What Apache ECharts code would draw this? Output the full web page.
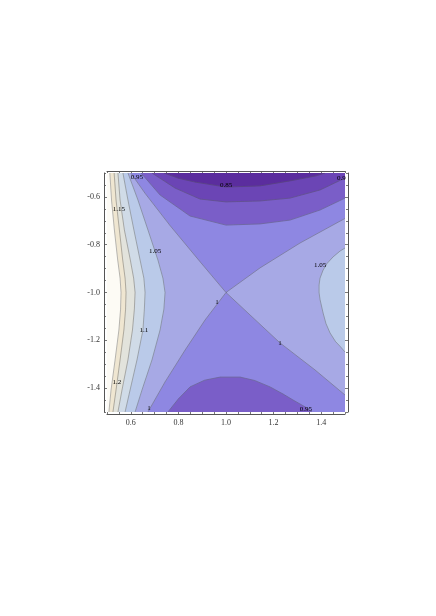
<!DOCTYPE html>
<html><head><meta charset="utf-8">
<script src="https://cdn.jsdelivr.net/npm/echarts@6/dist/echarts.min.js"></script>
<style>html,body{margin:0;padding:0;background:#fff}#c{width:436px;height:616px}</style>
</head><body><div id="c"></div><script>
// ---- data ----
const xRange = [0.5, 1.5];
const yRange = [-1.5, -0.5];
const xMajor = [0.6, 0.8, 1.0, 1.2, 1.4];
const yMajor = [-1.4, -1.2, -1.0, -0.8, -0.6];
const xMinor = [0.5, 0.55, 0.65, 0.7, 0.75, 0.85, 0.9, 0.95, 1.05, 1.1, 1.15, 1.25, 1.3, 1.35, 1.45, 1.5];
const yMinor = [-1.5, -1.45, -1.35, -1.3, -1.25, -1.15, -1.1, -1.05, -0.95, -0.9, -0.85, -0.75, -0.7, -0.65, -0.55, -0.5];
const levels = [0.85, 0.9, 0.95, 1.0, 1.05, 1.1, 1.15, 1.2, 1.25];

// contour lines, [x, y] in data units
const c085 = [[0.74,-0.5],[0.80,-0.522],[0.87,-0.538],[1.0,-0.559],[1.143,-0.554],[1.269,-0.533],[1.374,-0.513],[1.416,-0.5]];
const c090 = [[0.689,-0.5],[0.786,-0.563],[0.891,-0.609],[1.0,-0.621],[1.143,-0.617],[1.269,-0.605],[1.395,-0.571],[1.5,-0.521]];
const c095Top = [[0.643,-0.5],[0.723,-0.592],[0.849,-0.680],[1.0,-0.718],[1.143,-0.713],[1.269,-0.697],[1.395,-0.655],[1.5,-0.605]];
const c095Bottom = [[0.756,-1.5],[0.80,-1.445],[0.849,-1.395],[0.91,-1.367],[0.975,-1.354],[1.059,-1.354],[1.12,-1.368],[1.185,-1.395],[1.24,-1.425],[1.282,-1.45],[1.34,-1.483],[1.361,-1.5]];
const c100UpLeft = [[0.60,-0.5],[0.66,-0.585],[0.765,-0.72],[0.89,-0.87],[1.0,-1.0]];
const c100DownLeft = [[1.0,-1.0],[0.912,-1.115],[0.828,-1.241],[0.744,-1.374],[0.672,-1.5]];
const c100UpRight = [[1.5,-0.69],[1.311,-0.793],[1.143,-0.897],[1.0,-1.0]];
const c100DownRight = [[1.0,-1.0],[1.101,-1.094],[1.227,-1.211],[1.374,-1.324],[1.5,-1.429]];
const c105Right = [[1.5,-0.814],[1.48,-0.826],[1.45,-0.851],[1.425,-0.878],[1.408,-0.906],[1.395,-0.94],[1.391,-0.969],[1.391,-1.0],[1.395,-1.029],[1.408,-1.086],[1.42,-1.13],[1.437,-1.169],[1.46,-1.205],[1.48,-1.226],[1.5,-1.249]];
const c105Left = [[0.588,-0.5],[0.630,-0.613],[0.672,-0.738],[0.714,-0.864],[0.735,-0.94],[0.744,-1.0],[0.739,-1.07],[0.723,-1.157],[0.689,-1.282],[0.647,-1.408],[0.618,-1.5]];
const c110Left = [[0.567,-0.5],[0.588,-0.613],[0.613,-0.738],[0.639,-0.864],[0.655,-0.94],[0.660,-1.0],[0.657,-1.07],[0.651,-1.157],[0.626,-1.282],[0.597,-1.408],[0.576,-1.5]];
const c115Left = [[0.546,-0.5],[0.555,-0.613],[0.573,-0.738],[0.598,-0.864],[0.612,-0.94],[0.618,-1.0],[0.615,-1.07],[0.607,-1.157],[0.588,-1.282],[0.563,-1.408],[0.546,-1.5]];
const c120Left = [[0.530,-0.5],[0.538,-0.613],[0.552,-0.738],[0.566,-0.864],[0.576,-0.94],[0.580,-1.0],[0.578,-1.07],[0.571,-1.157],[0.555,-1.282],[0.538,-1.408],[0.525,-1.5]];
const c125Left = [[0.512,-0.5],[0.519,-0.613],[0.531,-0.738],[0.545,-0.864],[0.555,-0.94],[0.559,-1.0],[0.557,-1.07],[0.550,-1.157],[0.534,-1.282],[0.517,-1.408],[0.508,-1.5]];

// contour labels: [x, y, text]
const contourLabels = [
  [1.0,-0.552,'0.85'],[1.485,-0.523,'0.9'],[0.626,-0.517,'0.95'],[0.550,-0.651,'1.15'],
  [0.702,-0.826,'1.05'],[1.395,-0.885,'1.05'],[0.962,-1.04,'1'],[0.655,-1.157,'1.1'],
  [1.227,-1.211,'1'],[0.542,-1.374,'1.2'],[0.676,-1.483,'1'],[1.336,-1.487,'0.95']
];

// ---- styles ----
const bandColors = ['#5b2d9e','#6b45b5','#7a5ec8','#8e87e2','#a7a9e5','#bacae9','#d0dbe7','#e2e3dc','#efe6d1','#fdfbf5'];
const lineColor = 'rgba(70,70,70,0.55)';
const frameColor = '#555';
const fontFam = '"Liberation Serif", "DejaVu Serif", serif';

const X0 = xRange[0], X1 = xRange[1], Y0 = yRange[0], Y1 = yRange[1];
const rev = a => a.slice().reverse();

// superlevel regions painted in increasing level order
const regions = [
  {pts: [[X0,Y1],[X1,Y1],[X1,Y0],[X0,Y0]], band: 0},
  {pts: c085.concat([[X1,Y1],[X1,Y0],[X0,Y0],[X0,Y1]]), band: 1},
  {pts: c090.concat([[X1,Y0],[X0,Y0],[X0,Y1]]), band: 2},
  {pts: c095Top.concat([[X1,Y0]], rev(c095Bottom), [[X0,Y0],[X0,Y1]]), band: 3},
  {pts: [[X0,Y1]].concat(c100UpLeft, c100DownLeft.slice(1), [[X0,Y0]]), band: 4},
  {pts: c100UpRight.concat(c100DownRight.slice(1)), band: 4},
  {pts: c105Left.concat([[X0,Y0],[X0,Y1]]), band: 5},
  {pts: c105Right.slice(), band: 5},
  {pts: c110Left.concat([[X0,Y0],[X0,Y1]]), band: 6},
  {pts: c115Left.concat([[X0,Y0],[X0,Y1]]), band: 7},
  {pts: c120Left.concat([[X0,Y0],[X0,Y1]]), band: 8},
  {pts: c125Left.concat([[X0,Y0],[X0,Y1]]), band: 9}
];
const lines = [c085, c090, c095Top, c095Bottom, c100UpLeft, c100DownLeft, c100UpRight, c100DownRight,
  c105Right, c105Left, c110Left, c115Left, c120Left, c125Left];

const series = [];
regions.forEach((r, i) => {
  series.push({
    type: 'custom', coordinateSystem: 'cartesian2d', xAxisIndex: 0, yAxisIndex: 0,
    silent: true, z: 1, zlevel: 0, clip: true, data: [[1, -1]],
    renderItem: function (params, api) {
      return { type: 'polygon', z2: i, shape: { points: r.pts.map(p => api.coord(p)) },
        style: { fill: bandColors[r.band], stroke: bandColors[r.band], lineWidth: 0.6 } };
    }
  });
});
lines.forEach(l => {
  series.push({ type: 'line', xAxisIndex: 0, yAxisIndex: 0, data: l, showSymbol: false, silent: true,
    z: 3, lineStyle: { color: lineColor, width: 0.7 }, animation: false });
});
series.push({
  type: 'custom', coordinateSystem: 'cartesian2d', xAxisIndex: 0, yAxisIndex: 0, z: 5, silent: true,
  data: contourLabels,
  renderItem: function (params, api) {
    const d = contourLabels[params.dataIndex];
    const p = api.coord([d[0], d[1]]);
    return { type: 'text', x: p[0], y: p[1],
      style: { text: d[2], fill: '#000', fontSize: 7, fontFamily: fontFam, align: 'center', verticalAlign: 'middle' } };
  }
});

function xAx(pos, ticks, len, labels, line) {
  return { type: 'value', position: pos, min: X0, max: X1, offset: 2,
    axisLine: { show: line, onZero: false, lineStyle: { color: frameColor, width: 1 } },
    axisTick: { show: true, inside: true, length: len, customValues: ticks, lineStyle: { color: frameColor, width: 0.8 } },
    axisLabel: labels ? { show: true, customValues: ticks, formatter: v => v.toFixed(1), fontSize: 8, color: '#333', fontFamily: fontFam, margin: 5 } : { show: false },
    splitLine: { show: false } };
}
function yAx(pos, ticks, len, labels, line) {
  return { type: 'value', position: pos, min: Y0, max: Y1, offset: 3,
    axisLine: { show: line, onZero: false, lineStyle: { color: frameColor, width: 1 } },
    axisTick: { show: true, inside: true, length: len, customValues: ticks, lineStyle: { color: frameColor, width: 0.8 } },
    axisLabel: labels ? { show: true, customValues: ticks, formatter: v => v.toFixed(1), fontSize: 8, color: '#333', fontFamily: fontFam, margin: 4 } : { show: false },
    splitLine: { show: false } };
}

const chart = echarts.init(document.getElementById('c'), null, { renderer: 'canvas' });
chart.setOption({
  animation: false,
  backgroundColor: '#fff',
  grid: { left: 107, top: 173, width: 238, height: 239, containLabel: false },
  xAxis: [xAx('bottom', xMajor, 4, true, true), xAx('bottom', xMinor, 2, false, false),
          xAx('top', xMajor, 4, false, true), xAx('top', xMinor, 2, false, false)],
  yAxis: [yAx('left', yMajor, 4, true, true), yAx('left', yMinor, 2, false, false),
          yAx('right', yMajor, 4, false, true), yAx('right', yMinor, 2, false, false)],
  series: series
});
</script></body></html>
